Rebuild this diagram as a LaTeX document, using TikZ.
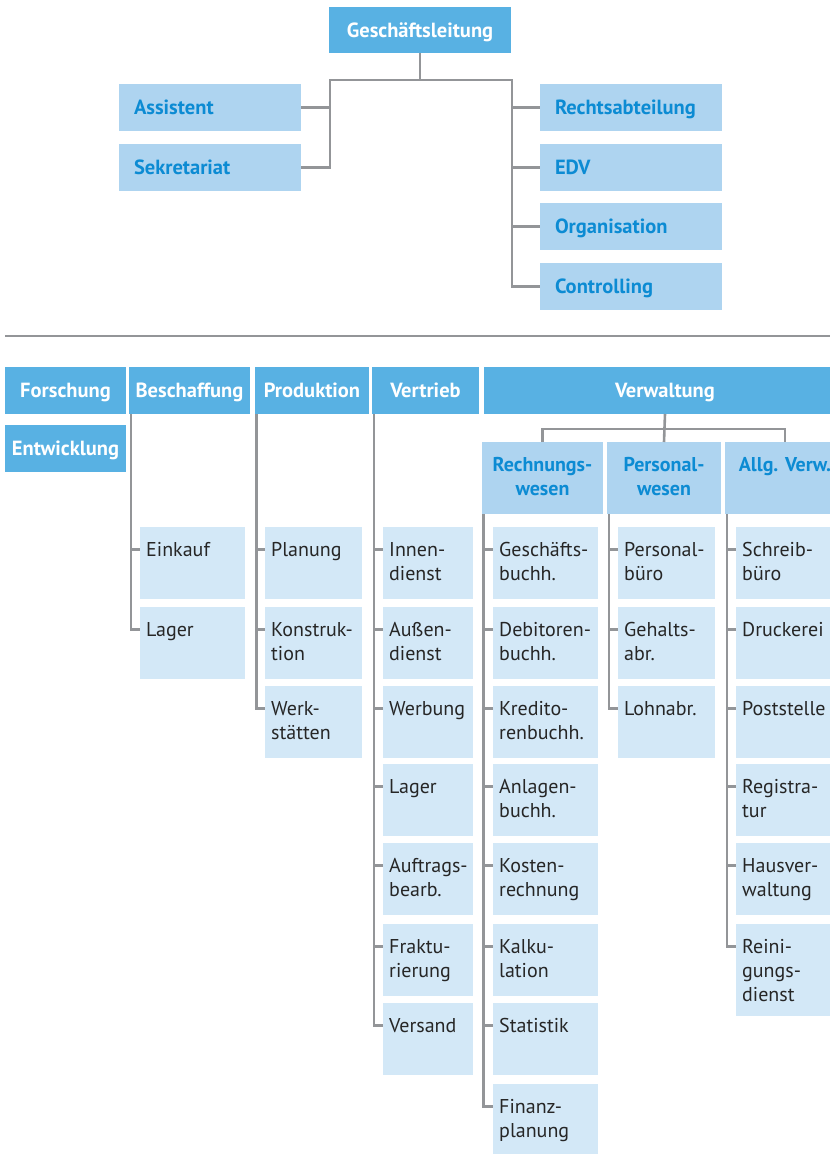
\documentclass[tikz,border=0pt]{standalone}
\usepackage{fontspec}
\setmainfont{PT Sans}
\definecolor{cDark}{HTML}{58B1E3}
\definecolor{cHead}{HTML}{AED4F0}
\definecolor{cLeaf}{HTML}{D3E8F7}
\definecolor{cBlue}{HTML}{0C8BD3}
\definecolor{cLine}{HTML}{939598}
\definecolor{cText}{HTML}{262626}
\tikzset{
  box/.style={draw=none, inner sep=0pt, outer sep=0pt, anchor=north west},
  dark/.style={box, fill=cDark, text=white, font=\bfseries\fontsize{20.5}{24}\selectfont, text height=14pt, text depth=0pt},
  topl/.style={box, fill=cHead, text=cBlue, font=\bfseries\fontsize{20.5}{24}\selectfont, text height=14pt, text depth=0pt, inner xsep=15pt, text width=152pt, align=left, minimum height=47pt},
  headbox/.style={box, fill=cHead},
  subtext/.style={inner sep=0pt, text=cBlue, font=\bfseries\fontsize{20}{24}\selectfont, align=center, anchor=north},
  leafbox/.style={box, fill=cLeaf},
  leaftext/.style={inner sep=0pt, text=cText, font=\fontsize{20}{24}\selectfont, align=left, anchor=north west},
  conn/.style={draw=cLine, line width=2.6pt},
  sepline/.style={draw=cLine, line width=2.8pt}
}
\newcommand\leaf[7]{%
  \node[leafbox, minimum width=#5pt, minimum height=#6pt] (#1) at (#3,#4) {};
  \node[leaftext] (#1-t) at ([xshift=6pt,yshift=-14pt]#1.north west) {\rule{0pt}{15pt}#7};
  \coordinate (#1-in) at ([yshift=-22.5pt]#1.north west);
  \draw[conn] (#1-in -| #2) -- (#1-in);}
\begin{document}
\begin{tikzpicture}[x=1pt,y=-1pt]
\useasboundingbox (0,0) rectangle (830,1154);
\clip (0,0) rectangle (830,1154);

% ---- top part ----
\node[dark, minimum width=182pt, minimum height=46pt] (gl) at (329,7) {Geschäftsleitung};
\node[topl] (ass) at (119,84) {Assistent};
\node[topl] (sek) at (119,144) {Sekretariat};
\node[topl] (recht) at (540,84) {Rechtsabteilung};
\node[topl] (edv) at (540,144) {EDV};
\node[topl] (org) at (540,203) {Organisation};
\node[topl] (ctrl) at (540,263) {Controlling};

\coordinate (tbar) at (420,80);
\coordinate (lbar) at (330,80);
\coordinate (rbar) at (512,80);
\draw[conn] (gl.south) -- (tbar);
\draw[conn] (sek.east) -| (lbar) -- (rbar) |- (ctrl.west);
\draw[conn] (ass.east) -- (ass.east -| lbar);
\draw[conn] (recht.west -| rbar) -- (recht.west);
\draw[conn] (edv.west -| rbar) -- (edv.west);
\draw[conn] (org.west -| rbar) -- (org.west);

\draw[sepline] (5,336) -- (830,336);

% ---- departments ----
\node[dark, minimum width=121pt, minimum height=47pt] (fo) at (5,367) {Forschung};
\node[dark, minimum width=121pt, minimum height=47pt] (ent) at (5,425) {Entwicklung};
\node[dark, minimum width=121pt, minimum height=47pt] (bes) at (129,367) {Beschaffung};
\node[dark, minimum width=114pt, minimum height=47pt] (prod) at (255,367) {Produktion};
\node[dark, minimum width=107pt, minimum height=47pt] (vert) at (372,367) {Vertrieb};
\node[dark, minimum width=362pt, minimum height=47pt] (verw) at (484,367) {Verwaltung};

\node[headbox, minimum width=121pt, minimum height=72pt] (rw) at (482,442) {};
\node[headbox, minimum width=114pt, minimum height=72pt] (pers) at (607,442) {};
\node[headbox, minimum width=120pt, minimum height=72pt] (allg) at (725,442) {};
\node[subtext] (rw-t) at ([yshift=-14pt]rw.north) {\rule{0pt}{15pt}Rechnungs-\\wesen};
\node[subtext] (pers-t) at ([yshift=-14pt]pers.north) {\rule{0pt}{15pt}Personal-\\wesen};
\node[subtext] (allg-t) at ([yshift=-14pt]allg.north) {\rule{0pt}{15pt}Allg. Verw.};

\coordinate (vbar) at (665,429);
\draw[conn] (verw.south) -- (pers.north);
\draw[conn] (rw.north) -- (rw.north |- vbar) -- (allg.north |- vbar) -- (allg.north);

\coordinate (bes-tr) at ([xshift=2pt]bes.south west);
\coordinate (prod-tr) at ([xshift=1.5pt]prod.south west);
\coordinate (vert-tr) at ([xshift=2pt]vert.south west);
\coordinate (rw-tr) at ([xshift=1.5pt]rw.south west);
\coordinate (pers-tr) at ([xshift=2pt]pers.south west);
\coordinate (allg-tr) at ([xshift=2pt]allg.south west);

% Beschaffung
\leaf{ein}{bes-tr}{140}{527}{105}{72}{Einkauf}
\leaf{lag1}{bes-tr}{140}{607}{105}{72}{Lager}
\draw[conn] (bes-tr) |- (lag1-in);
% Produktion
\leaf{plan}{prod-tr}{265}{527}{97}{72}{Planung}
\leaf{kons}{prod-tr}{265}{607}{97}{72}{Konstruk-\\tion}
\leaf{werk}{prod-tr}{265}{686}{97}{72}{Werk-\\stätten}
\draw[conn] (prod-tr) |- (werk-in);
% Vertrieb
\leaf{innen}{vert-tr}{383}{527}{90}{72}{Innen-\\dienst}
\leaf{aussen}{vert-tr}{383}{607}{90}{72}{Außen-\\dienst}
\leaf{werb}{vert-tr}{383}{686}{90}{72}{Werbung}
\leaf{lag2}{vert-tr}{383}{764}{90}{72}{Lager}
\leaf{auft}{vert-tr}{383}{843}{90}{72}{Auftrags-\\bearb.}
\leaf{frak}{vert-tr}{383}{924}{90}{72}{Fraktu-\\rierung}
\leaf{vers}{vert-tr}{383}{1003}{90}{72}{Versand}
\draw[conn] (vert-tr) |- (vers-in);
% Rechnungswesen
\leaf{gb}{rw-tr}{493}{527}{105}{72}{Geschäfts-\\buchh.}
\leaf{deb}{rw-tr}{493}{607}{105}{72}{Debitoren-\\buchh.}
\leaf{kred}{rw-tr}{493}{686}{105}{72}{Kredito-\\renbuchh.}
\leaf{anl}{rw-tr}{493}{764}{105}{72}{Anlagen-\\buchh.}
\leaf{kost}{rw-tr}{493}{843}{105}{72}{Kosten-\\rechnung}
\leaf{kalk}{rw-tr}{493}{924}{105}{72}{Kalku-\\lation}
\leaf{stat}{rw-tr}{493}{1003}{105}{72}{Statistik}
\leaf{fin}{rw-tr}{493}{1084}{105}{70}{Finanz-\\planung}
\draw[conn] (rw-tr) |- (fin-in);
% Personalwesen
\leaf{pb}{pers-tr}{618}{527}{97}{72}{Personal-\\büro}
\leaf{geh}{pers-tr}{618}{607}{97}{72}{Gehalts-\\abr.}
\leaf{lohn}{pers-tr}{618}{686}{97}{72}{Lohnabr.}
\draw[conn] (pers-tr) |- (lohn-in);
% Allg. Verwaltung
\leaf{schr}{allg-tr}{736}{527}{105}{72}{Schreib-\\büro}
\leaf{druck}{allg-tr}{736}{607}{105}{72}{Druckerei}
\leaf{post}{allg-tr}{736}{686}{105}{72}{Poststelle}
\leaf{reg}{allg-tr}{736}{764}{105}{72}{Registra-\\tur}
\leaf{haus}{allg-tr}{736}{843}{105}{72}{Hausver-\\waltung}
\leaf{rein}{allg-tr}{736}{924}{105}{92}{Reini-\\gungs-\\dienst}
\draw[conn] (allg-tr) |- (rein-in);
\end{tikzpicture}
\end{document}
